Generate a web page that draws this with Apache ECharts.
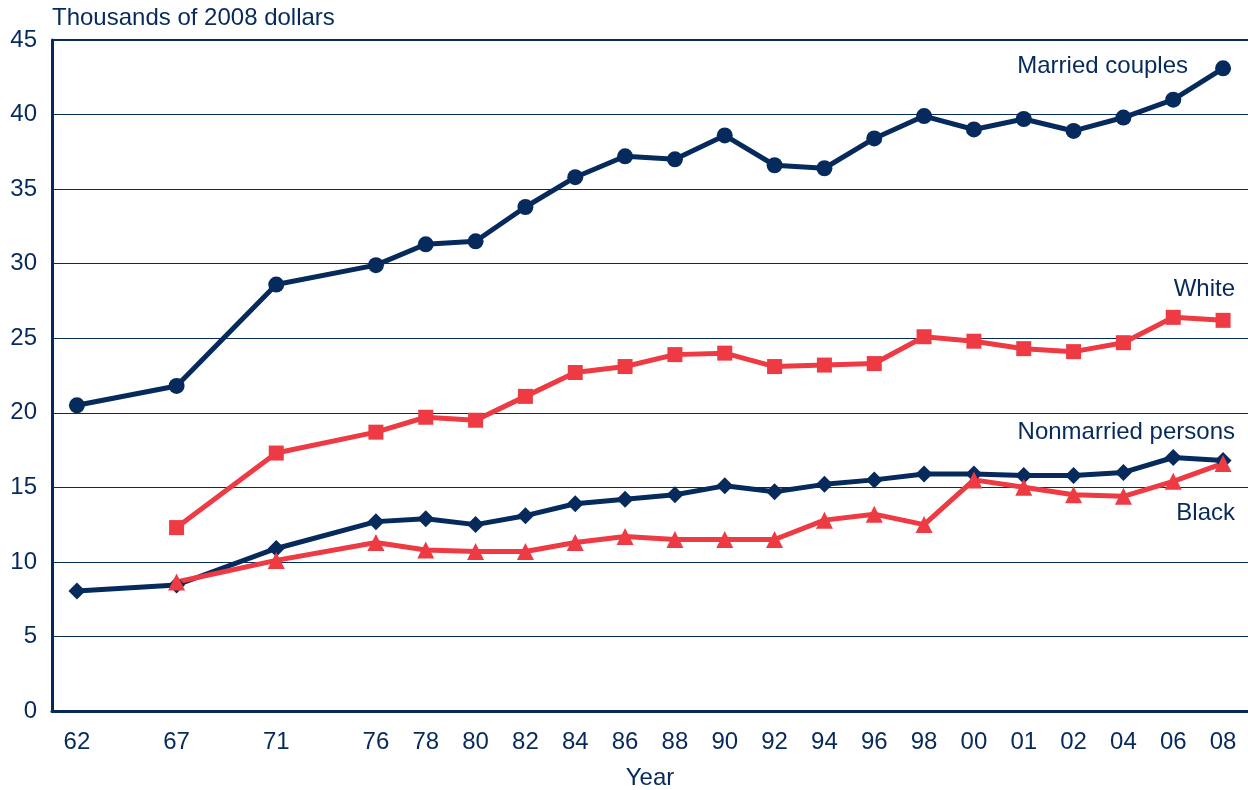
<!DOCTYPE html>
<html>
<head>
<meta charset="utf-8">
<script src="https://cdn.jsdelivr.net/npm/echarts@6/dist/echarts.min.js"></script>
<style>
  html, body { margin: 0; padding: 0; background: #fff; }
  #chart { width: 1248px; height: 790px; }
</style>
</head>
<body>
<div id="chart"></div>
<script>
// axis slots: blanks keep the wider spacing between the early years
const categories = ['62', '', '67', '', '71', '', '76', '78', '80', '82', '84', '86', '88', '90', '92', '94', '96', '98', '00', '01', '02', '04', '06', '08']
const years = ['62', '67', '71', '76', '78', '80', '82', '84', '86', '88', '90', '92', '94', '96', '98', '00', '01', '02', '04', '06', '08']

const married = [20.5, 21.8, 28.6, 29.9, 31.3, 31.5, 33.8, 35.8, 37.2, 37.0, 38.6, 36.6, 36.4, 38.4, 39.9, 39.0, 39.7, 38.9, 39.8, 41.0, 43.1]
const white = [null, 12.3, 17.3, 18.7, 19.7, 19.5, 21.1, 22.7, 23.1, 23.9, 24.0, 23.1, 23.2, 23.3, 25.1, 24.8, 24.3, 24.1, 24.7, 26.4, 26.2]
const nonmarried = [8.05, 8.45, 10.9, 12.7, 12.9, 12.5, 13.1, 13.9, 14.2, 14.5, 15.1, 14.7, 15.2, 15.5, 15.9, 15.9, 15.8, 15.8, 16.0, 17.0, 16.8]
const black = [null, 8.65, 10.1, 11.3, 10.8, 10.7, 10.7, 11.3, 11.7, 11.5, 11.5, 11.5, 12.8, 13.2, 12.5, 15.5, 15.0, 14.5, 14.4, 15.4, 16.6]

const NAVY = '#062a5c'
const RED = '#ee3a43'
const FONT = '"Liberation Sans", Arial, sans-serif'
const FS = 24

const toData = (vals) => years
  .map((y, i) => [categories.indexOf(y), vals[i]])
  .filter(d => d[1] !== null)

const chart = echarts.init(document.getElementById('chart'))

const makeSeries = (name, vals, color, symbol, size) => ({
  name: name,
  type: 'line',
  data: toData(vals),
  symbol: symbol,
  symbolSize: size,
  lineStyle: { color: color, width: 5 },
  itemStyle: { color: color },
  z: 3
})

const option = {
  animation: false,
  textStyle: { fontFamily: FONT },
  grid: { left: 52, right: 0, top: 40, bottom: 79, containLabel: false, outerBoundsMode: 'none' },
  xAxis: {
    type: 'category',
    data: categories,
    boundaryGap: true,
    name: 'Year',
    nameLocation: 'middle',
    nameGap: 55,
    nameTextStyle: { color: NAVY, fontSize: FS, fontFamily: FONT },
    axisLine: { lineStyle: { color: NAVY, width: 3 } },
    axisTick: { show: false },
    axisLabel: { color: NAVY, fontSize: FS, margin: 19, interval: 0, fontFamily: FONT }
  },
  yAxis: {
    type: 'value',
    min: 0,
    max: 45,
    interval: 5,
    axisLine: { show: true, lineStyle: { color: NAVY, width: 3 } },
    axisTick: { show: false },
    axisLabel: { color: NAVY, fontSize: FS, margin: 15, fontFamily: FONT },
    splitLine: { lineStyle: { color: NAVY, width: 1 } }
  },
  series: [
    Object.assign(makeSeries('Married couples', married, NAVY, 'circle', 16), {
      markLine: {
        silent: true,
        symbol: 'none',
        label: { show: false },
        lineStyle: { color: NAVY, width: 2, type: 'solid' },
        data: [{ yAxis: 45 }]
      }
    }),
    makeSeries('White', white, RED, 'rect', 15),
    makeSeries('Nonmarried persons', nonmarried, NAVY, 'diamond', 17),
    makeSeries('Black', black, RED, 'triangle', 17)
  ],
  graphic: [
    { type: 'text', left: 52, top: 6, style: { text: 'Thousands of 2008 dollars', fill: NAVY, fontSize: FS, fontFamily: FONT } },
    { type: 'text', right: 60, top: 54, style: { text: 'Married couples', fill: NAVY, fontSize: FS, fontFamily: FONT } },
    { type: 'text', right: 13, top: 277, style: { text: 'White', fill: NAVY, fontSize: FS, fontFamily: FONT } },
    { type: 'text', right: 13, top: 420, style: { text: 'Nonmarried persons', fill: NAVY, fontSize: FS, fontFamily: FONT } },
    { type: 'text', right: 13, top: 501, style: { text: 'Black', fill: NAVY, fontSize: FS, fontFamily: FONT } }
  ]
}

chart.setOption(option)
</script>
</body>
</html>
